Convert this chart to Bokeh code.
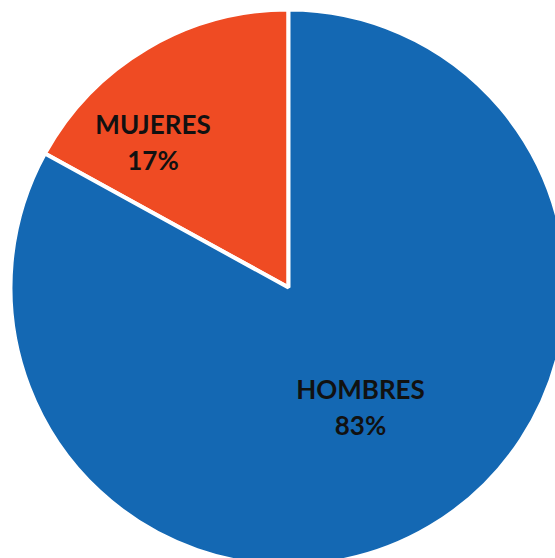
import math
from bokeh.plotting import figure
from bokeh.models import Range1d, ColumnDataSource
from bokeh.core.properties import value
from bokeh.embed import file_html
from bokeh.resources import INLINE

categories = ["MUJERES", "HOMBRES"]
shares = [17, 83]
colors = ["#EF4B23", "#1468B3"]

total = sum(shares)
starts, ends, names, pcts = [], [], [], []
a = math.pi / 2
for c, s in zip(categories, shares):
    starts.append(a)
    a += 2 * math.pi * s / total
    ends.append(a)
    names.append(c)
    pcts.append(f"{round(100 * s / total)}%")

src = ColumnDataSource(dict(cat=categories, start=starts, end=ends, color=colors))

p = figure(width=555, height=558, output_backend="svg", toolbar_location=None,
           x_range=Range1d(-288, 267), y_range=Range1d(-271, 287),
           min_border=0, outline_line_color=None)
p.axis.visible = False
p.grid.visible = False
p.background_fill_color = "white"
p.border_fill_color = "white"

p.wedge(x=0, y=0, radius=278, start_angle="start", end_angle="end",
        fill_color="color", line_color="white", line_width=4, source=src)

lx = [-135.5, 72]
ly_name = [163.5, -101.5]
ly_pct = [128, -137]
common = dict(text_align="center", text_baseline="middle",
              text_font=value("Lato"), text_font_style="bold", text_font_size="26px",
              text_color="#111111")
p.text(x=lx, y=ly_name, text=names, **common)
p.text(x=lx, y=ly_pct, text=pcts, **common)

open("out.html", "w").write(file_html(p, INLINE))
